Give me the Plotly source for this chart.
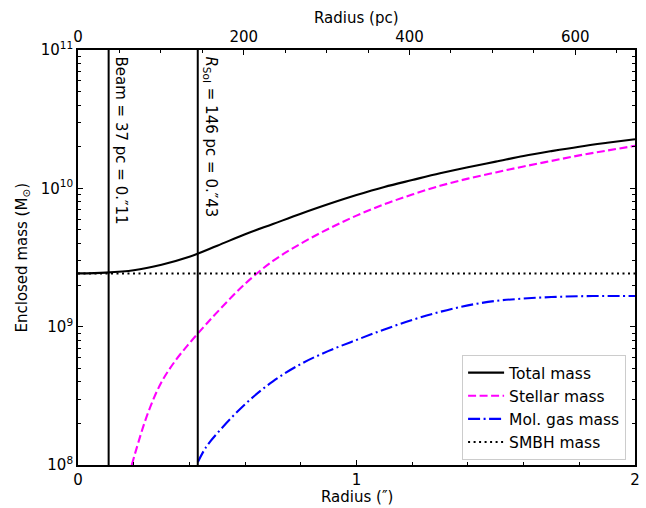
import plotly.graph_objects as go

# ---- data ----
PC_PER_ARCSEC = 336.0  # top-axis conversion (pc per arcsec)

beam_arcsec = 0.11
rsoi_arcsec = 0.43
beam_label = "Beam = 37 pc = 0.″11"
rsoi_label = "<i>R</i><sub>SoI</sub> = 146 pc = 0.″43"

total_x = [0.0, 0.1, 0.2, 0.3, 0.4, 0.5, 0.6, 0.7, 0.8, 0.9, 1.0,
           1.1, 1.2, 1.3, 1.4, 1.5, 1.6, 1.7, 1.8, 1.9, 2.0]
total_m = [2.427e9, 2.460e9, 2.559e9, 2.805e9, 3.199e9, 3.846e9, 4.656e9, 5.521e9,
           6.546e9, 7.691e9, 8.933e9, 1.023e10, 1.148e10, 1.285e10, 1.422e10,
           1.560e10, 1.714e10, 1.858e10, 2.000e10, 2.133e10, 2.265e10]

stellar_x = [0.193, 0.25, 0.3, 0.35, 0.4, 0.45, 0.5, 0.6, 0.7, 0.8, 0.9, 1.0,
             1.1, 1.2, 1.3, 1.4, 1.5, 1.6, 1.7, 1.8, 1.9, 2.0]
stellar_m = [1.0e8, 2.344e8, 3.981e8, 5.689e8, 7.586e8, 9.886e8, 1.274e9, 2.042e9,
             2.985e9, 3.981e9, 5.105e9, 6.353e9, 7.674e9, 9.016e9, 1.042e10,
             1.175e10, 1.303e10, 1.439e10, 1.578e10, 1.730e10, 1.875e10, 2.028e10]

gas_x = [0.43, 0.46, 0.5, 0.6, 0.7, 0.8, 0.9, 1.0, 1.1, 1.2, 1.3, 1.4,
         1.5, 1.6, 1.7, 1.8, 1.9, 2.0]
gas_m = [1.047e8, 1.349e8, 1.698e8, 2.754e8, 4.027e8, 5.370e8, 6.683e8, 8.017e8,
         9.550e8, 1.118e9, 1.280e9, 1.425e9, 1.535e9, 1.596e9, 1.637e9, 1.660e9,
         1.667e9, 1.667e9]

smbh_x = [0.0, 2.0]
smbh_m = [2.42e9, 2.42e9]

y_ticks = [1e8, 1e9, 1e10, 1e11]
y_ticktext = ["10<sup>8</sup>", "10<sup>9</sup>", "10<sup>10</sup>", "10<sup>11</sup>"]
x_ticks = [0, 1, 2]
x2_ticks = [0, 200, 400, 600]

FONT = "DejaVu Sans"
FS = 15
LW = 2.1
SM = 1.0

fig = go.Figure()
fig.add_trace(go.Scatter(x=total_x, y=total_m, mode="lines", name="Total mass",
                         line=dict(color="black", width=LW, shape="spline", smoothing=SM)))
fig.add_trace(go.Scatter(x=stellar_x, y=stellar_m, mode="lines", name="Stellar mass",
                         line=dict(color="#ff00ff", width=LW, dash="8px,3.5px",
                                   shape="spline", smoothing=SM)))
fig.add_trace(go.Scatter(x=gas_x, y=gas_m, mode="lines", name="Mol. gas mass",
                         line=dict(color="#0000ff", width=LW, dash="12px,3.5px,2px,3.5px",
                                   shape="spline", smoothing=SM)))
fig.add_trace(go.Scatter(x=smbh_x, y=smbh_m, mode="lines", name="SMBH mass",
                         line=dict(color="black", width=LW, dash="2px,3.5px")))
# invisible trace carrying the top (pc) axis
fig.add_trace(go.Scatter(x=[v * PC_PER_ARCSEC for v in smbh_x], y=smbh_m, xaxis="x2",
                         mode="lines", line=dict(width=0, color="rgba(0,0,0,0)"),
                         showlegend=False, hoverinfo="skip"))

for xv in (beam_arcsec, rsoi_arcsec):
    fig.add_shape(type="line", xref="x", yref="paper", x0=xv, x1=xv, y0=0, y1=1,
                  line=dict(color="black", width=2))

for xv, txt in ((beam_arcsec, beam_label), (rsoi_arcsec, rsoi_label)):
    fig.add_annotation(x=xv, xref="x", y=0.99, yref="paper", text=txt,
                       textangle=90, xanchor="left", yanchor="top", showarrow=False,
                       xshift=1, font=dict(family=FONT, size=FS, color="black"))

# axis titles as annotations for exact placement
fig.add_annotation(x=0.5, xref="paper", y=-0.0771, yref="paper", text="Radius (″)",
                   showarrow=False, xanchor="center", yanchor="middle",
                   font=dict(family=FONT, size=FS, color="black"))
fig.add_annotation(x=0.5, xref="paper", y=1.077, yref="paper", text="Radius (pc)",
                   showarrow=False, xanchor="center", yanchor="middle",
                   font=dict(family=FONT, size=FS, color="black"))
fig.add_annotation(x=-0.1005, xref="paper", y=0.5, yref="paper",
                   text="Enclosed mass (M<sub>⊙</sub>)", textangle=-90,
                   showarrow=False, xanchor="center", yanchor="middle",
                   font=dict(family=FONT, size=FS, color="black"))

axis_common = dict(showline=True, linecolor="black", linewidth=1.8, showgrid=False,
                   zeroline=False, ticks="inside", tickcolor="black", tickwidth=1.2,
                   ticklen=5, automargin=False,
                   tickfont=dict(family=FONT, size=FS, color="black"))

fig.update_layout(
    width=646, height=508,
    margin=dict(l=78, r=11, t=50, b=43, autoexpand=False),
    paper_bgcolor="white", plot_bgcolor="white",
    font=dict(family=FONT, size=FS, color="black"),
    xaxis=dict(**axis_common, range=[0, 2], tickvals=x_ticks, mirror=True,
               minor=dict(ticks="inside", ticklen=3, tickwidth=1, tickcolor="black", dtick=0.2)),
    xaxis2=dict(**axis_common, range=[0, 2 * PC_PER_ARCSEC], tickvals=x2_ticks,
                overlaying="x", side="top", anchor="y",
                minor=dict(ticks="inside", ticklen=3, tickwidth=1, tickcolor="black", dtick=50)),
    yaxis=dict(**axis_common, type="log", range=[8, 11], tickvals=y_ticks,
               ticktext=y_ticktext, mirror="ticks",
               minor=dict(ticks="inside", ticklen=3, tickwidth=1, tickcolor="black",
                          dtick="D1")),
    legend=dict(x=0.984, y=0.012, xanchor="right", yanchor="bottom", itemwidth=36,
                bgcolor="rgba(255,255,255,0.85)", bordercolor="#cccccc", borderwidth=1,
                font=dict(family=FONT, size=15.5, color="black"), tracegroupgap=0),
    showlegend=True,
)

fig.write_html("out.html", config={"displayModeBar": False},
               post_script="document.body.style.margin='0px';document.body.style.padding='0px';")
